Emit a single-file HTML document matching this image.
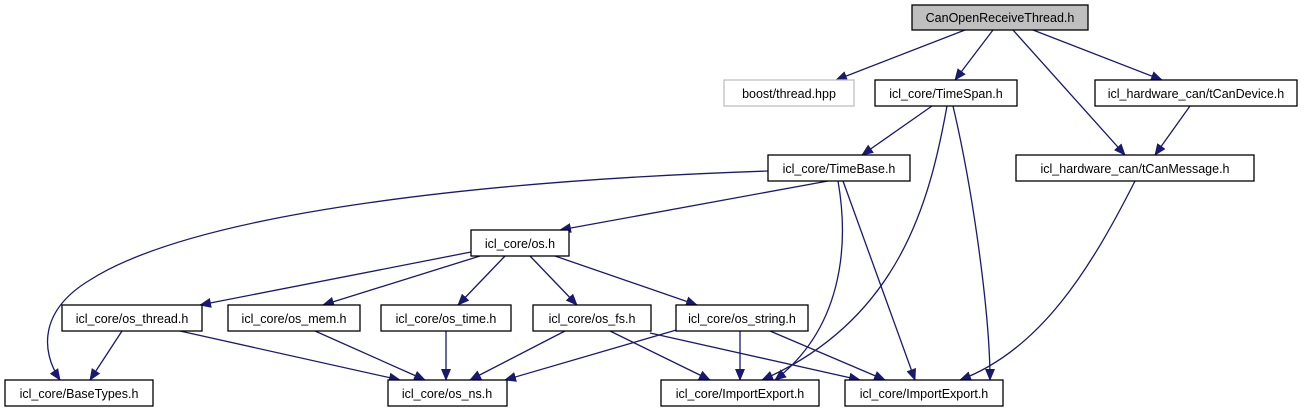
<!DOCTYPE html>
<html><head><meta charset="utf-8"><style>
body{margin:0;background:#fff;}
svg{display:block;}
text{font-family:"Liberation Sans",sans-serif;font-size:12.5px;fill:#000;}
.e{fill:none;stroke:#191970;stroke-width:1.3;marker-end:url(#a);}
.n{fill:#fff;stroke:#000;stroke-width:1.3;}
</style></head><body>
<svg width="1305" height="411" viewBox="0 0 1305 411">
<defs><marker id="a" markerWidth="12" markerHeight="10" refX="11" refY="5" orient="auto" markerUnits="userSpaceOnUse"><path d="M0,0 L12,5 L0,10 z" fill="#191970"/></marker></defs>
<path class="e" d="M965,30 L836,80"/>
<path class="e" d="M993,30 L955,80"/>
<path class="e" d="M1013,30 L1125,155"/>
<path class="e" d="M1033,30 L1162,80"/>
<path class="e" d="M932,106 L862,155"/>
<path class="e" d="M947,106 C930,200 900,320 762,380"/>
<path class="e" d="M953,106 C975,200 990,320 990,380"/>
<path class="e" d="M1190,106 L1155,155"/>
<path class="e" d="M1135,181 C1090,270 1040,350 960,380"/>
<path class="e" d="M768,171 C500,180 200,210 90,280 C40,310 40,350 60,380"/>
<path class="e" d="M828,181 L560,230"/>
<path class="e" d="M838,181 C850,250 840,330 775,380"/>
<path class="e" d="M843,181 L915,380"/>
<path class="e" d="M471,252 L200,305"/>
<path class="e" d="M480,256 L323,305"/>
<path class="e" d="M505,256 L458,305"/>
<path class="e" d="M530,256 L577,305"/>
<path class="e" d="M555,256 L697,305"/>
<path class="e" d="M122,331 L90,380"/>
<path class="e" d="M180,331 L400,380"/>
<path class="e" d="M315,331 L425,380"/>
<path class="e" d="M446,331 L446,380"/>
<path class="e" d="M565,331 L470,380"/>
<path class="e" d="M610,331 L710,380"/>
<path class="e" d="M650,333 L860,380"/>
<path class="e" d="M690,326 L505,380"/>
<path class="e" d="M740,331 L740,380"/>
<path class="e" d="M770,331 L885,380"/>

<rect x="912" y="5" width="176" height="25" fill="#bfbfbf" stroke="#000" stroke-width="1.3"/>
<text x="1000" y="22" text-anchor="middle">CanOpenReceiveThread.h</text>
<rect x="724" y="80" width="130" height="26" fill="#fff" stroke="#bfbfbf" stroke-width="1.3"/>
<text x="789" y="98" text-anchor="middle">boost/thread.hpp</text>
<rect class="n" x="875" y="80" width="142" height="26"/><text x="946" y="98" text-anchor="middle">icl_core/TimeSpan.h</text>
<rect class="n" x="1095" y="80" width="202" height="26"/><text x="1196" y="98" text-anchor="middle">icl_hardware_can/tCanDevice.h</text>
<rect class="n" x="768" y="155" width="142" height="26"/><text x="839" y="173" text-anchor="middle">icl_core/TimeBase.h</text>
<rect class="n" x="1016" y="155" width="238" height="26"/><text x="1135" y="173" text-anchor="middle">icl_hardware_can/tCanMessage.h</text>
<rect class="n" x="471" y="230" width="98" height="26"/><text x="520" y="248" text-anchor="middle">icl_core/os.h</text>
<rect class="n" x="62" y="305" width="140" height="26"/><text x="132" y="323" text-anchor="middle">icl_core/os_thread.h</text>
<rect class="n" x="228" y="305" width="132" height="26"/><text x="294" y="323" text-anchor="middle">icl_core/os_mem.h</text>
<rect class="n" x="381" y="305" width="130" height="26"/><text x="446" y="323" text-anchor="middle">icl_core/os_time.h</text>
<rect class="n" x="533" y="305" width="118" height="26"/><text x="592" y="323" text-anchor="middle">icl_core/os_fs.h</text>
<rect class="n" x="676" y="305" width="132" height="26"/><text x="742" y="323" text-anchor="middle">icl_core/os_string.h</text>
<rect class="n" x="5" y="380" width="148" height="26"/><text x="79" y="398" text-anchor="middle">icl_core/BaseTypes.h</text>
<rect class="n" x="388" y="380" width="119" height="26"/><text x="447" y="398" text-anchor="middle">icl_core/os_ns.h</text>
<rect class="n" x="661" y="380" width="158" height="26"/><text x="740" y="398" text-anchor="middle">icl_core/ImportExport.h</text>
<rect class="n" x="845" y="380" width="158" height="26"/><text x="924" y="398" text-anchor="middle">icl_core/ImportExport.h</text>
</svg>
</body></html>
